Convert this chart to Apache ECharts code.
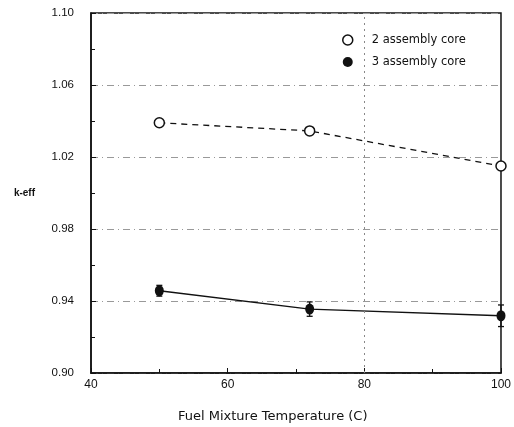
<!DOCTYPE html>
<html>
<head>
<meta charset="utf-8">
<script src="https://cdn.jsdelivr.net/npm/echarts@6/dist/echarts.min.js"></script>
<style>
  html, body { margin: 0; padding: 0; background: #fff; }
  #chart { width: 514px; height: 427px; }
</style>
</head>
<body>
<div id="chart"></div>
<script>
// 数据
var temps = [50, 72, 100]
var core2 = [1.039, 1.0345, 1.015]
var core3 = [0.9457, 0.9355, 0.9318]
var core3Err = [0.003, 0.004, 0.006]

var chart = echarts.init(document.getElementById('chart'))
var font = 'Liberation Sans, Arial, sans-serif'
var wideFont = 'DejaVu Sans, sans-serif'

var errData = temps.map(function (t, i) {
    return [t, core3[i], core3Err[i]]
})

var option = {
    animation: false,
    backgroundColor: '#fff',
    grid: {
        left: 91,
        right: 7,
        top: 13,
        bottom: 54,
        show: true,
        borderColor: '#111',
        borderWidth: 1.5
    },
    legend: {
        left: 337,
        top: 29,
        orient: 'vertical',
        itemWidth: 10,
        itemHeight: 10,
        itemGap: 10,
        textStyle: {
            fontFamily: wideFont,
            fontSize: 11.5,
            color: '#111',
            padding: [0, 0, 0, 14]
        },
        data: [
            { name: '2 assembly core', icon: 'circle', itemStyle: { color: '#fff', borderColor: '#111', borderWidth: 1.5 } },
            { name: '3 assembly core', icon: 'circle', itemStyle: { color: '#111' } }
        ]
    },
    xAxis: {
        type: 'value',
        min: 40,
        max: 100,
        interval: 20,
        axisLine: { lineStyle: { color: '#111', width: 1.5 } },
        axisTick: { inside: true, length: 5, lineStyle: { color: '#111' } },
        minorTick: { show: true, splitNumber: 2, length: 4, lineStyle: { color: '#111' } },
        axisLabel: { fontFamily: font, fontSize: 12, color: '#111', margin: 6 },
        splitLine: { show: false }
    },
    yAxis: {
        type: 'value',
        min: 0.90,
        max: 1.10,
        interval: 0.04,
        name: 'k-eff',
        nameLocation: 'middle',
        nameRotate: 0,
        nameGap: 56,
        nameTextStyle: { fontFamily: font, fontSize: 10, fontWeight: 'bold', color: '#111' },
        axisLine: { lineStyle: { color: '#111', width: 1.5 } },
        axisTick: { inside: true, length: 5, lineStyle: { color: '#111' } },
        minorTick: { show: true, splitNumber: 2, length: 4, lineStyle: { color: '#111' } },
        axisLabel: {
            fontFamily: font,
            fontSize: 11.5,
            color: '#111',
            margin: 17,
            formatter: function (v) { return v.toFixed(2) }
        },
        splitLine: {
            show: true,
            lineStyle: { color: '#999', width: 1, type: [7, 4, 1, 4] }
        }
    },
    graphic: [
        {
            type: 'text',
            left: 178,
            top: 410,
            style: {
                text: 'Fuel Mixture Temperature (C)',
                font: '13px ' + wideFont,
                fill: '#111'
            }
        }
    ],
    series: [
        {
            name: '2 assembly core',
            type: 'line',
            data: temps.map(function (t, i) { return [t, core2[i]] }),
            symbol: 'circle',
            symbolSize: 10,
            lineStyle: { color: '#111', width: 1.3, type: [6, 5] },
            itemStyle: { color: '#fff', borderColor: '#111', borderWidth: 1.5 },
            markLine: {
                silent: true,
                symbol: 'none',
                label: { show: false },
                lineStyle: { color: '#888', width: 1, type: [2, 4] },
                data: [{ xAxis: 80 }]
            },
            z: 3
        },
        {
            name: '3 assembly core',
            type: 'line',
            data: temps.map(function (t, i) { return [t, core3[i]] }),
            symbol: 'circle',
            symbolSize: [9, 11],
            lineStyle: { color: '#111', width: 1.3 },
            itemStyle: { color: '#111' },
            z: 3
        },
        {
            name: 'err',
            type: 'custom',
            data: errData,
            renderItem: function (params, api) {
                var x = api.value(0)
                var y = api.value(1)
                var e = api.value(2)
                var lo = api.coord([x, y - e])
                var hi = api.coord([x, y + e])
                var w = 3
                var style = { stroke: '#111', lineWidth: 1.3 }
                return {
                    type: 'group',
                    children: [
                        { type: 'line', shape: { x1: lo[0], y1: lo[1], x2: hi[0], y2: hi[1] }, style: style },
                        { type: 'line', shape: { x1: lo[0] - w, y1: lo[1], x2: lo[0] + w, y2: lo[1] }, style: style },
                        { type: 'line', shape: { x1: hi[0] - w, y1: hi[1], x2: hi[0] + w, y2: hi[1] }, style: style }
                    ]
                }
            },
            z: 4
        }
    ]
}
chart.setOption(option)
</script>
</body>
</html>
